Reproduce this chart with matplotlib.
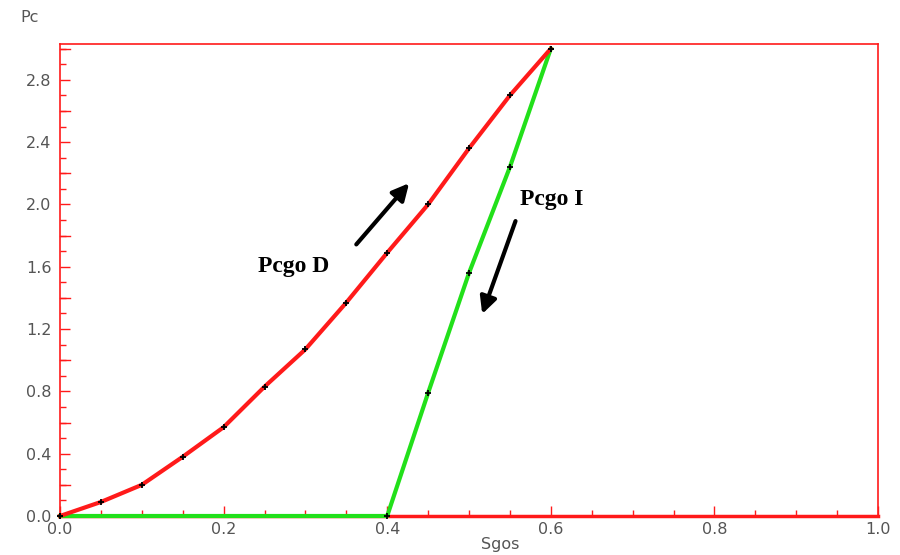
import numpy as np
import matplotlib
matplotlib.use("Agg")
import matplotlib.pyplot as plt
from matplotlib.ticker import MultipleLocator

# Drainage (Pcgo D) and imbibition (Pcgo I) capillary pressure curves
sg_d = [0.0, 0.05, 0.1, 0.15, 0.2, 0.25, 0.3, 0.35, 0.4, 0.45, 0.5, 0.55, 0.6]
pc_d = [0.0, 0.09, 0.2, 0.38, 0.57, 0.83, 1.07, 1.37, 1.69, 2.0, 2.36, 2.70, 3.0]

sg_i = [0.0, 0.4, 0.45, 0.5, 0.55, 0.6]
pc_i = [0.0, 0.0, 0.79, 1.56, 2.24, 3.0]

x_ticks = [0.0, 0.2, 0.4, 0.6, 0.8, 1.0]
y_ticks = [0.0, 0.4, 0.8, 1.2, 1.6, 2.0, 2.4, 2.8]

red = "#ff1a1a"
green = "#22e01a"
gray = "#555555"

fig = plt.figure(figsize=(9, 5.55), dpi=100)
ax = fig.add_axes([60 / 900, 1 - 516 / 555, 818 / 900, 472 / 555])

ax.plot(sg_i, pc_i, color=green, lw=3, zorder=4, clip_on=False)
ax.plot(sg_d, pc_d, color=red, lw=3, zorder=5, clip_on=False)
ax.plot(sg_d, pc_d, ls="none", marker="+", ms=5, mew=1.3, color="black", zorder=6, clip_on=False)
ax.plot(sg_i, pc_i, ls="none", marker="+", ms=5, mew=1.3, color="black", zorder=6, clip_on=False)

ax.set_xlim(0, 1.0)
ax.set_ylim(0, 3.03)

for s in ax.spines.values():
    s.set_color(red)
    s.set_linewidth(1.2)
ax.spines["bottom"].set_linewidth(2.5)

ax.set_xticks(x_ticks)
ax.set_yticks(y_ticks)
ax.set_xticklabels([f"{v:.1f}" for v in x_ticks])
ax.set_yticklabels([f"{v:.1f}" for v in y_ticks])
ax.xaxis.set_minor_locator(MultipleLocator(0.05))
ax.yaxis.set_minor_locator(MultipleLocator(0.1))
ax.tick_params(which="both", direction="in", color=red, labelcolor=gray,
               labelsize=11.5, width=1.0)
ax.tick_params(which="major", length=7)
ax.tick_params(which="minor", length=4)
ax.tick_params(axis="y", pad=6)
ax.tick_params(axis="x", pad=4)
# extra long ticks on y every 0.2
for v in np.arange(0.2, 3.01, 0.4):
    ax.plot([0, 0.012], [v, v], color=red, lw=1.0, clip_on=False, zorder=2)

fig.text(30 / 900, 1 - 18 / 555, "Pc", color=gray, fontsize=11.5, ha="center", va="center")
fig.text(500 / 900, 1 - 544 / 555, "Sgos", color=gray, fontsize=11.5, ha="center", va="center")

ax.text(0.285, 1.6, "Pcgo D", fontsize=17, fontweight="bold", family="Liberation Serif",
        ha="center", va="center")
ax.text(0.601, 2.03, "Pcgo I", fontsize=17, fontweight="bold", family="Liberation Serif",
        ha="center", va="center")

ax.annotate("", xy=(0.429, 2.15), xytext=(0.36, 1.73),
            arrowprops=dict(arrowstyle="-|>,head_length=1.0,head_width=0.5", color="black", lw=3))
ax.annotate("", xy=(0.515, 1.28), xytext=(0.558, 1.91),
            arrowprops=dict(arrowstyle="-|>,head_length=1.0,head_width=0.5", color="black", lw=3))

fig.savefig("out.png", dpi=100, facecolor="white")
